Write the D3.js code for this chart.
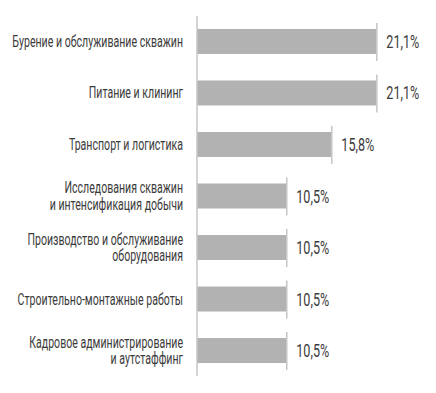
<!DOCTYPE html>
<html>
<head>
<meta charset="utf-8">
<script src="https://cdn.jsdelivr.net/npm/d3@7"></script>
<style>
  body { margin: 0; background: #fff; }
  text { font-family: Roboto, "DejaVu Sans", sans-serif; fill: #3b3b3b; }
</style>
</head>
<body>
<div id="chart"></div>
<script>
var categories = [
    ["Бурение и обслуживание скважин"],
    ["Питание и клининг"],
    ["Транспорт и логистика"],
    ["Исследования скважин", "и интенсификация добычи"],
    ["Производство и обслуживание", "оборудования"],
    ["Строительно-монтажные работы"],
    ["Кадровое администрирование", "и аутстаффинг"]
];
var values = [21.1, 21.1, 15.8, 10.5, 10.5, 10.5, 10.5];

var w = 436;
var h = 393;
var margin = ({top: 16, right: 27, bottom: 17, left: 197});

var ru = d3.formatLocale({decimal: ",", thousands: " ", grouping: [3], currency: ["", ""]});
var fmt = ru.format(".1f");

var xScale = d3.scaleLinear()
    .domain([0, 25])
    .range([margin.left, margin.left + 212.5]);

var yScale = d3.scaleBand()
    .domain(d3.range(values.length))
    .range([margin.top, h - margin.bottom])
    .paddingInner(0.515)
    .paddingOuter(0.252);

var svg = d3.select("#chart")
    .append("svg")
    .attr("width", w)
    .attr("height", h);

// bars
svg.selectAll(".bar")
    .data(values)
    .enter()
    .append("rect")
    .attr("class", "bar")
    .attr("x", xScale(0))
    .attr("y", function(d, i) { return yScale(i); })
    .attr("width", function(d) { return xScale(d) - xScale(0); })
    .attr("height", yScale.bandwidth())
    .attr("fill", "#b2b2b2");

// small end marks
svg.selectAll(".endmark")
    .data(values)
    .enter()
    .append("line")
    .attr("class", "endmark")
    .attr("x1", function(d) { return xScale(d) + 0.5; })
    .attr("x2", function(d) { return xScale(d) + 0.5; })
    .attr("y1", function(d, i) { return yScale(i) - 6; })
    .attr("y2", function(d, i) { return yScale(i) + yScale.bandwidth() + 7; })
    .attr("stroke", "#c6c6c6")
    .attr("stroke-width", 1.5);

// axis line
svg.append("line")
    .attr("x1", xScale(0))
    .attr("x2", xScale(0))
    .attr("y1", margin.top)
    .attr("y2", h - margin.bottom)
    .attr("stroke", "#c6c6c6")
    .attr("stroke-width", 1.5);

// condensed look: squeeze text horizontally
var probe = svg.append("text").attr("font-size", 16).text(categories[0][0]);
var sx = 171 / probe.node().getComputedTextLength();
probe.attr("font-size", 18).text(fmt(values[0]) + "%");
var sxv = 33 / probe.node().getComputedTextLength();
probe.remove();

// category labels
var labels = svg.selectAll(".label")
    .data(categories)
    .enter()
    .append("text")
    .attr("class", "label")
    .attr("text-anchor", "end")
    .attr("font-size", 16)
    .attr("transform", function(d, i) {
        var y = yScale(i) + yScale.bandwidth() / 2 + 5.5 - (d.length - 1) * 8.25;
        return "translate(" + (margin.left - 14) + "," + y + ") scale(" + sx + ",1)";
    });

labels.selectAll("tspan")
    .data(function(d) { return d; })
    .enter()
    .append("tspan")
    .attr("x", 0)
    .attr("dy", function(d, i) { return i == 0 ? 0 : 16.5; })
    .text(function(d) { return d; });

// value labels
svg.selectAll(".value")
    .data(values)
    .enter()
    .append("text")
    .attr("class", "value")
    .attr("font-size", 18)
    .attr("transform", function(d, i) {
        var y = yScale(i) + yScale.bandwidth() / 2 + 6.5;
        return "translate(" + (xScale(d) + 10) + "," + y + ") scale(" + sxv + ",1)";
    })
    .text(function(d) { return fmt(d) + "%"; });
</script>
</body>
</html>
